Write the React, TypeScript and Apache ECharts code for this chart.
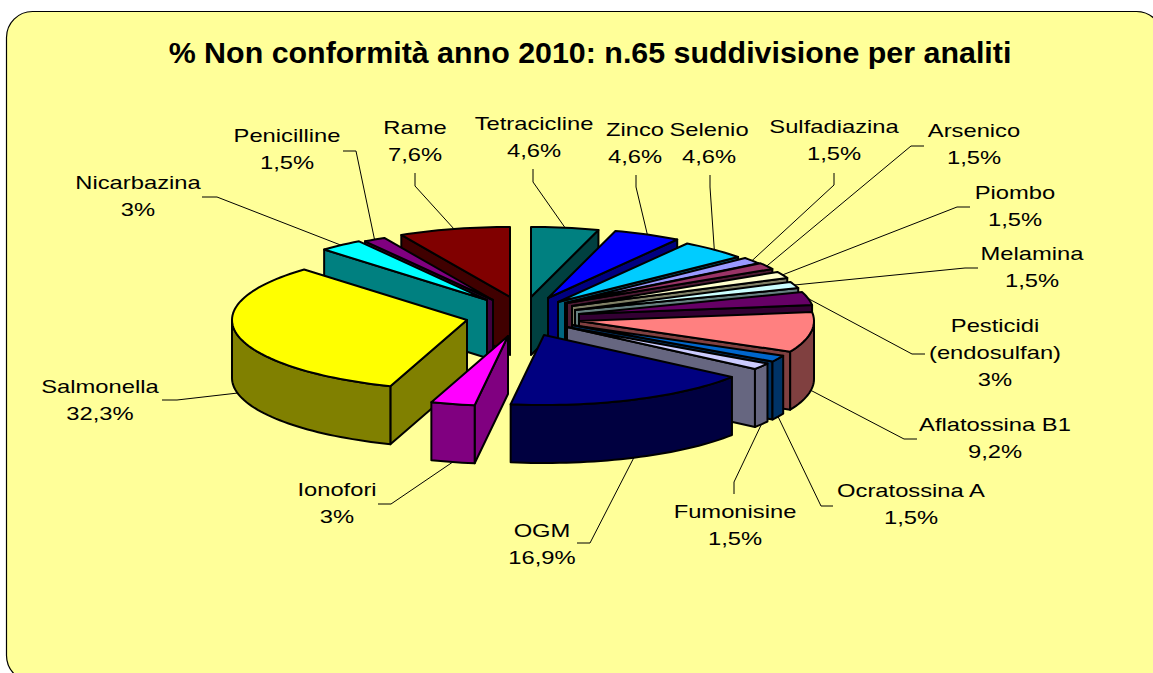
import React, { useEffect, useRef } from "react";
import * as echarts from "echarts";

const titleText = "% Non conformità anno 2010: n.65 suddivisione per analiti";

const categories = [
  "Tetracicline", "Zinco", "Selenio", "Sulfadiazina", "Arsenico", "Piombo", "Melamina",
  "Pesticidi\n(endosulfan)", "Aflatossina B1", "Ocratossina A", "Fumonisine", "OGM",
  "Ionofori", "Salmonella", "Nicarbazina", "Penicilline", "Rame",
];
const values = [4.6, 4.6, 4.6, 1.5, 1.5, 1.5, 1.5, 3, 9.2, 1.5, 1.5, 16.9, 3, 32.3, 3, 1.5, 7.6];
const colors = [
  "#008080", "#0000FF", "#00CCFF", "#9999FF", "#993366", "#FFFFCC", "#CCFFFF",
  "#660066", "#FF8080", "#0066CC", "#CCCCFF", "#000080",
  "#FF00FF", "#FFFF00", "#00FFFF", "#800080", "#800000",
];

// Layout only: where each exploded slice's tip sits.
const slicePositions: number[][] = [
  [531, 297], [548, 298], [558, 302], [565, 303], [567, 303], [572, 306], [575, 310],
  [579, 314], [579, 321], [572, 325], [567, 327], [544, 335],
  [508, 336], [467, 320], [487, 300], [493, 300], [510, 297],
];
// Layout only: label centre (first line) and leader-line start / elbow.
const labelPositions: number[][] = [
  [534, 124], [635, 130], [709, 130], [834, 127], [974, 131], [1015, 193], [1032, 254],
  [995, 326], [995, 425], [911, 491], [735, 512], [542, 531],
  [337, 490], [100, 387], [138, 183], [287, 136], [415, 128],
];
const leaderStarts: number[][][] = [
  [[533, 169], [533, 182]], [[636, 175], [636, 187]], [[710, 175], [710, 187]], [[834, 173], [834, 185]],
  [[924, 146], [911, 146]], [[970, 207], [957, 207]], [[978, 268], [965, 268]],
  [[925, 354], [912, 354]], [[917, 439], [904, 439]], [[833, 506], [821, 506]], [[734, 494], [734, 482]],
  [[577, 543], [590, 543]], [[378, 504], [391, 504]], [[162, 400], [177, 400]],
  [[202, 197], [217, 197]], [[343, 151], [356, 151]], [[415, 173], [415, 186]],
];

const RX = 235;
const RY = 70;
const DEPTH = 58;
const LINE_HEIGHT = 27;
const LABEL_SCALE = 1.25;

const total = values.reduce((a, b) => a + b, 0);
type Slice = { index: number; start: number; end: number; mid: number };
let running = 0;
const slices: Slice[] = values.map((v, index) => {
  const start = (running / total) * Math.PI * 2;
  running += v;
  const end = (running / total) * Math.PI * 2;
  return { index, start, end, mid: (start + end) / 2 };
});
const paintOrder = [...slices].sort((a, b) => Math.cos(b.mid) - Math.cos(a.mid));

const shade = (hex: string) => {
  const n = parseInt(hex.slice(1), 16);
  const c = [(n >> 16) & 255, (n >> 8) & 255, n & 255].map((x) => Math.round(x / 2));
  return `rgb(${c[0]},${c[1]},${c[2]})`;
};
const rim = (apex: number[], t: number, dy = 0) => [
  apex[0] + RX * Math.sin(t),
  apex[1] - RY * Math.cos(t) + dy,
];
const arc = (apex: number[], a: number, b: number, dy = 0) => {
  const n = Math.max(2, Math.ceil(Math.abs(b - a) / 0.03));
  const pts: number[][] = [];
  for (let i = 0; i <= n; i++) pts.push(rim(apex, a + ((b - a) * i) / n, dy));
  return pts;
};
const percent = (v: number) => `${String(v).replace(".", ",")}%`;

const renderSlice = (params: any) => {
  const s = paintOrder[params.dataIndex];
  const apex = slicePositions[s.index];
  const top = colors[s.index];
  const wall = shade(top);
  const base = { stroke: "#000", lineWidth: 2, lineJoin: "round" };
  const poly = (points: number[][], fill: string) => ({
    type: "polygon",
    silent: true,
    shape: { points },
    style: { ...base, fill },
  });
  const under = [apex[0], apex[1] + DEPTH];
  const children: any[] = [];
  if (Math.sin(s.start) < 0) {
    children.push(poly([apex, rim(apex, s.start), rim(apex, s.start, DEPTH), under], wall));
  }
  if (Math.sin(s.end) > 0) {
    children.push(poly([apex, rim(apex, s.end), rim(apex, s.end, DEPTH), under], wall));
  }
  const a = Math.max(s.start, Math.PI / 2);
  const b = Math.min(s.end, (Math.PI * 3) / 2);
  if (b > a) {
    children.push(poly([...arc(apex, a, b), ...arc(apex, b, a, DEPTH)], wall));
  }
  children.push(poly([apex, ...arc(apex, s.start, s.end)], top));
  return { type: "group", children };
};

const renderLabel = (params: any) => {
  const s = slices[params.dataIndex];
  const apex = slicePositions[s.index];
  const [cx, cy] = labelPositions[s.index];
  const text = `${categories[s.index]}\n${percent(values[s.index])}`;
  const lines = text.split("\n").length;
  const end = rim(apex, s.mid, Math.cos(s.mid) < 0 ? DEPTH : 0);
  return {
    type: "group",
    children: [
      {
        type: "polyline",
        silent: true,
        shape: { points: [...leaderStarts[s.index], end] },
        style: { stroke: "#000", lineWidth: 1, fill: "none" },
      },
      {
        type: "text",
        silent: true,
        x: cx,
        y: cy + ((lines - 1) * LINE_HEIGHT) / 2,
        scaleX: LABEL_SCALE,
        style: {
          x: 0,
          y: 0,
          text,
          align: "center",
          verticalAlign: "middle",
          fontFamily: "Liberation Sans",
          fontSize: 19,
          lineHeight: LINE_HEIGHT,
          fill: "#000",
        },
      },
    ],
  };
};

export default function App() {
  const ref = useRef<HTMLDivElement>(null);
  useEffect(() => {
    const chart = echarts.init(ref.current!, undefined, { renderer: "svg" });
    chart.setOption({
      animation: false,
      backgroundColor: "#fff",
      title: {
        text: titleText,
        left: 585,
        top: 32,
        textAlign: "center",
        textStyle: { fontFamily: "Liberation Sans", fontWeight: "bold", fontSize: 30.4, color: "#000" },
      },
      graphic: [
        {
          type: "rect",
          silent: true,
          z: -1,
          shape: { x: 6.5, y: 11.5, width: 1156, height: 670, r: 26 },
          style: { fill: "#FFFF99", stroke: "#000", lineWidth: 1.2 },
        },
      ],
      series: [
        {
          type: "custom",
          name: "leaders",
          coordinateSystem: "none",
          silent: true,
          z: 3,
          data: values,
          renderItem: renderLabel,
        },
        {
          type: "custom",
          name: "Non conformità",
          coordinateSystem: "none",
          silent: true,
          z: 4,
          data: paintOrder.map((s) => values[s.index]),
          renderItem: renderSlice,
        },
      ],
    });
    return () => chart.dispose();
  }, []);
  return <div ref={ref} style={{ position: "fixed", left: 0, top: 0, width: 1153, height: 673 }} />;
}
